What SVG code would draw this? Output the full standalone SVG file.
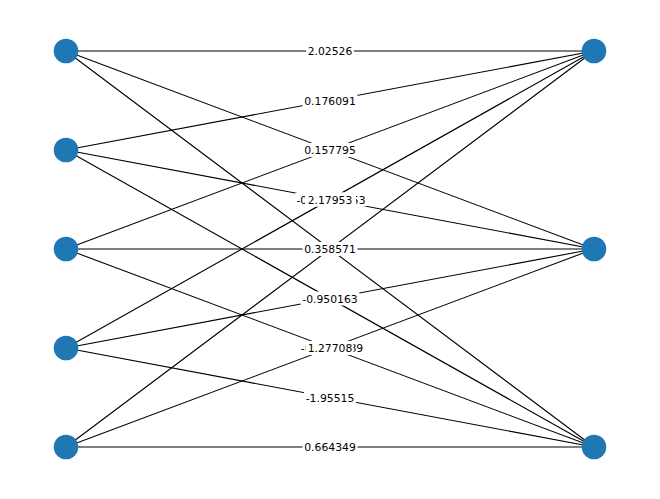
<svg xmlns="http://www.w3.org/2000/svg" width="660" height="499" viewBox="0 0 660 499">
<style>
.e{stroke:#000;stroke-width:1.1;fill:none}
.n{fill:#1f77b4}
.b{fill:#fff}
.t{font-family:"DejaVu Sans",sans-serif;font-size:10.8px;fill:#000;text-anchor:middle}
</style>
<rect width="660" height="499" fill="#fff"/>
<g id="edges">
<line class="e" x1="66" y1="51" x2="594" y2="51"/>
<line class="e" x1="66" y1="51" x2="594" y2="249"/>
<line class="e" x1="66" y1="51" x2="594" y2="447"/>
<line class="e" x1="66" y1="150" x2="594" y2="51"/>
<line class="e" x1="66" y1="150" x2="594" y2="249"/>
<line class="e" x1="66" y1="150" x2="594" y2="447"/>
<line class="e" x1="66" y1="249" x2="594" y2="51"/>
<line class="e" x1="66" y1="249" x2="594" y2="249"/>
<line class="e" x1="66" y1="249" x2="594" y2="447"/>
<line class="e" x1="66" y1="348" x2="594" y2="51"/>
<line class="e" x1="66" y1="348" x2="594" y2="249"/>
<line class="e" x1="66" y1="348" x2="594" y2="447"/>
<line class="e" x1="66" y1="447" x2="594" y2="51"/>
<line class="e" x1="66" y1="447" x2="594" y2="249"/>
<line class="e" x1="66" y1="447" x2="594" y2="447"/>
</g>
<g id="edge-labels">
<rect class="b" x="306" y="44" width="48" height="14" rx="2"/><text class="t" x="330" y="55">2.02526</text>
<rect class="b" x="302.5" y="93.5" width="55" height="14" rx="2"/><text class="t" x="330" y="104.5">0.176091</text>
<rect class="b" x="302.5" y="143" width="55" height="14" rx="2"/><text class="t" x="330" y="154">0.157795</text>
<rect class="b" x="295" y="192.5" width="72" height="14" rx="2"/><text class="t" x="331" y="203.5">-0.00217953</text>
<rect class="b" x="305" y="192.5" width="51" height="14" rx="2"/><text class="t" x="330" y="203.5">2.17953</text>
<rect class="b" x="302.5" y="242" width="55" height="14" rx="2"/><text class="t" x="330" y="253">0.358571</text>
<rect class="b" x="300.5" y="291.5" width="59" height="14" rx="2"/><text class="t" x="330" y="302.5">-0.950163</text>
<rect class="b" x="300" y="341" width="64" height="14" rx="2"/><text class="t" x="332" y="352">-0.1277089</text>
<rect class="b" x="305.5" y="341" width="48" height="14" rx="2"/><text class="t" x="330" y="352">1.27708</text>
<rect class="b" x="304" y="390.5" width="52" height="14" rx="2"/><text class="t" x="330" y="401.5">-1.95515</text>
<rect class="b" x="302.5" y="440" width="55" height="14" rx="2"/><text class="t" x="330" y="451">0.664349</text>
</g>
<g id="L0"><circle class="n" cx="66" cy="51" r="12.3"/></g>
<g id="L1"><circle class="n" cx="66" cy="150" r="12.3"/></g>
<g id="L2"><circle class="n" cx="66" cy="249" r="12.3"/></g>
<g id="L3"><circle class="n" cx="66" cy="348" r="12.3"/></g>
<g id="L4"><circle class="n" cx="66" cy="447" r="12.3"/></g>
<g id="R0"><circle class="n" cx="594" cy="51" r="12.3"/></g>
<g id="R1"><circle class="n" cx="594" cy="249" r="12.3"/></g>
<g id="R2"><circle class="n" cx="594" cy="447" r="12.3"/></g>
</svg>
